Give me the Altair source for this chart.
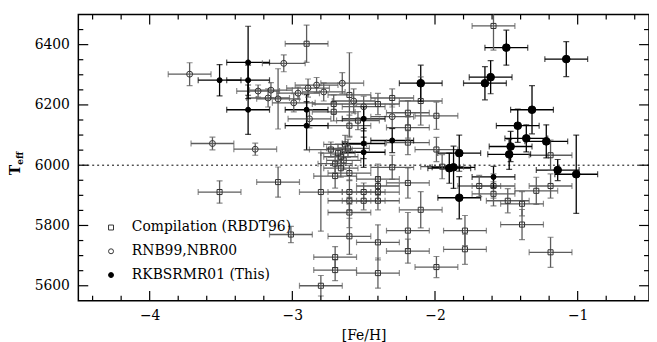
import altair as alt
import pandas as pd

# ---------------- data ----------------
comp_feh = [-3.51, -3.10, -3.01, -2.80, -2.70, -2.70, -2.80, -2.90, -2.73, -2.68,
            -2.66, -2.64, -2.70, -2.66, -2.70, -2.71, -2.71, -2.60, -2.40, -2.30,
            -2.10, -2.19, -1.99, -2.19, -2.19, -1.99, -2.30, -2.60, -2.40, -2.40,
            -2.19, -2.60, -2.50, -2.40, -2.60, -2.50, -2.40, -2.10, -2.60, -2.19,
            -2.60, -2.40, -2.19, -1.99, -2.40, -1.79, -1.79, -1.19, -1.39, -1.49,
            -1.39, -1.29, -1.19, -1.19, -1.69, -1.59, -1.59, -1.59, -1.95, -2.60,
            -2.54, -2.63, -2.61]
comp_teff = [5911, 5944, 5770, 5911, 5695, 5652, 5600, 6403, 6052, 6040,
             6028, 6016, 6005, 5990, 5964, 6203, 6177, 6233, 6203, 6223,
             6213, 6174, 6164, 6125, 6075, 6052, 5993, 5974, 5954, 5931,
             5941, 5911, 5911, 5911, 5882, 5882, 5882, 5852, 5843, 5783,
             5764, 5744, 5715, 5662, 5642, 5783, 5721, 5711, 5803, 5882,
             5872, 5915, 5931, 6033, 5931, 5931, 5905, 6462, 5995, 6131,
             6148, 6069, 6056]
comp_efeh = [0.15, 0.15, 0.15, 0.15, 0.15, 0.15, 0.15, 0.15, 0.15, 0.12,
             0.12, 0.12, 0.12, 0.12, 0.15, 0.15, 0.15, 0.15, 0.15, 0.15,
             0.15, 0.15, 0.15, 0.15, 0.15, 0.15, 0.15, 0.15, 0.15, 0.15,
             0.15, 0.15, 0.15, 0.15, 0.15, 0.15, 0.15, 0.15, 0.15, 0.15,
             0.15, 0.15, 0.15, 0.15, 0.15, 0.15, 0.15, 0.15, 0.15, 0.15,
             0.15, 0.15, 0.15, 0.15, 0.15, 0.15, 0.15, 0.15, 0.15, 0.15,
             0.15, 0.15, 0.15]
comp_eteff = [37, 50, 27, 130, 35, 35, 34, 62, 25, 30,
              30, 30, 30, 30, 40, 30, 30, 140, 35, 30,
              80, 40, 45, 35, 40, 40, 40, 25, 50, 30,
              50, 40, 30, 30, 30, 30, 30, 60, 50, 60,
              60, 58, 40, 35, 50, 50, 50, 50, 50, 40,
              40, 45, 40, 50, 35, 40, 40, 80, 40, 35,
              30, 30, 30]

rnb_feh = [-3.72, -3.56, -3.06, -3.26, -3.24, -3.15, -3.17, -3.10, -2.99, -2.96,
           -2.89, -2.83, -2.78, -2.65, -2.88, -2.57, -2.50, -2.30]
rnb_teff = [6302, 6072, 6338, 6053, 6246, 6249, 6223, 6220, 6207, 6239,
            6256, 6266, 6243, 6272, 6154, 6213, 6194, 6161]
rnb_efeh = [0.15, 0.15, 0.15, 0.15, 0.15, 0.15, 0.15, 0.15, 0.15, 0.15,
            0.15, 0.15, 0.15, 0.15, 0.15, 0.15, 0.15, 0.15]
rnb_eteff = [38, 21, 28, 20, 20, 25, 30, 100, 30, 20,
             30, 25, 30, 35, 30, 40, 35, 40]

this_s_feh = [-3.51, -3.31, -3.31, -3.31, -2.90, -2.90, -2.30, -2.50, -2.50, -2.50, -1.59]
this_s_teff = [6282, 6341, 6282, 6184, 6184, 6131, 6082, 6154, 6072, 6043, 5961]
this_s_efeh = [0.15, 0.15, 0.15, 0.15, 0.15, 0.15, 0.15, 0.15, 0.15, 0.15, 0.15]
this_s_eteff = [52, 120, 50, 82, 50, 80, 40, 40, 50, 50, 35]

this_b_feh = [-1.50, -1.08, -1.61, -1.65, -2.10, -1.32, -1.42, -1.36, -1.22, -1.47,
              -1.48, -1.83, -1.87, -1.90, -1.83, -1.14, -1.01]
this_b_teff = [6390, 6352, 6292, 6272, 6272, 6184, 6131, 6089, 6079, 6062,
               6036, 6040, 5993, 5990, 5892, 5984, 5970]
this_b_efeh = [0.15, 0.15, 0.15, 0.15, 0.15, 0.15, 0.15, 0.15, 0.15, 0.15,
               0.15, 0.15, 0.15, 0.15, 0.15, 0.15, 0.15]
this_b_eteff = [58, 58, 55, 55, 60, 80, 55, 45, 55, 50,
                50, 60, 70, 50, 70, 35, 130]

series_names = ["Compilation (RBDT96)", "RNB99,NBR00", "RKBSRMR01 (This)"]
x_major = [-4, -3, -2, -1]
x_minor = [-4.4, -4.2, -3.8, -3.6, -3.4, -3.2, -2.8, -2.6, -2.4, -2.2,
           -1.8, -1.6, -1.4, -1.2, -0.8, -0.6]
y_major = [5600, 5800, 6000, 6200, 6400]
y_minor = [5650, 5700, 5750, 5850, 5900, 5950, 6050, 6100, 6150,
           6250, 6300, 6350, 6450]


def frame(feh, teff, efeh, eteff, series, group):
    d = pd.DataFrame({"feh": feh, "teff": teff, "efeh": efeh, "eteff": eteff})
    d["series"] = series
    d["group"] = group
    return d


df = pd.concat([
    frame(comp_feh, comp_teff, comp_efeh, comp_eteff, series_names[0], "comp"),
    frame(rnb_feh, rnb_teff, rnb_efeh, rnb_eteff, series_names[1], "rnb"),
    frame(this_s_feh, this_s_teff, this_s_efeh, this_s_eteff, series_names[2], "small"),
    frame(this_b_feh, this_b_teff, this_b_efeh, this_b_eteff, series_names[2], "big"),
], ignore_index=True)
df["xlo"] = df["feh"] - df["efeh"]
df["xhi"] = df["feh"] + df["efeh"]
df["ylo"] = df["teff"] - df["eteff"]
df["yhi"] = df["teff"] + df["eteff"]

W, H = 576, 289
FONT = "DejaVu Serif"
xs = alt.Scale(domain=[-4.5, -0.5], nice=False, zero=False)
ys = alt.Scale(domain=[5550, 6500], nice=False, zero=False)

GRAY = "#5c5c5c"
bar_color = alt.Color("group:N", legend=None,
                      scale=alt.Scale(domain=["comp", "rnb", "small", "big"],
                                      range=[GRAY, GRAY, "#000000", "#000000"]))

XA = alt.Axis(orient="bottom", values=x_major, format="d", labels=True,
              ticks=False, domain=False, grid=False, labelFont=FONT,
              labelFontSize=14, labelColor="black", labelPadding=8,
              title="[Fe/H]", titleFont=FONT, titleFontSize=14,
              titleFontWeight="normal", titleColor="black", titlePadding=6)
YA = alt.Axis(orient="left", values=y_major, format="d", labels=True,
              ticks=False, domain=False, grid=False, labelFont=FONT,
              labelFontSize=14, labelColor="black", labelPadding=9,
              title="")


def X(field):
    return alt.X(field, scale=xs, axis=XA)


def Y(field):
    return alt.Y(field, scale=ys, axis=YA)


base = alt.Chart(df)

# horizontal error bars
xbars = base.mark_rule(strokeWidth=1.3, clip=True).encode(
    x=X("xlo:Q"), x2="xhi:Q", y=Y("teff:Q"), color=bar_color)
# vertical error bars
ybars = base.mark_rule(strokeWidth=1.3, clip=True).encode(
    x=X("feh:Q"), y=Y("ylo:Q"), y2="yhi:Q", color=bar_color)


def caps(xfield, yfield, orient):
    return base.mark_tick(size=6, thickness=1.2, orient=orient, clip=True).encode(
        x=X(xfield), y=Y(yfield), color=bar_color)


xcap_lo = caps("xlo:Q", "teff:Q", "vertical")
xcap_hi = caps("xhi:Q", "teff:Q", "vertical")
ycap_lo = caps("feh:Q", "ylo:Q", "horizontal")
ycap_hi = caps("feh:Q", "yhi:Q", "horizontal")

legend = alt.Legend(orient="none", legendX=26, legendY=208, title=None,
                    labelFont=FONT, labelFontSize=14, labelColor="black",
                    labelLimit=0, symbolSize=25, symbolStrokeWidth=1,
                    rowPadding=10, labelOffset=14, padding=0)
shape_enc = alt.Shape("series:N", legend=legend,
                      scale=alt.Scale(domain=series_names,
                                      range=["square", "circle", "circle"]))
fill_enc = alt.Fill("series:N", legend=legend,
                    scale=alt.Scale(domain=series_names,
                                    range=["transparent", "transparent", "black"]))
stroke_enc = alt.Stroke("series:N", legend=legend,
                        scale=alt.Scale(domain=series_names,
                                        range=["#333333", "#333333", "black"]))


def points(group, size):
    return base.transform_filter(alt.datum.group == group).mark_point(
        size=size, strokeWidth=1, opacity=1, filled=False).encode(
        x=X("feh:Q"), y=Y("teff:Q"),
        shape=shape_enc, fill=fill_enc, stroke=stroke_enc,
    )


p_comp = points("comp", 26)
p_rnb = points("rnb", 36)
p_small = points("small", 26)
p_big = points("big", 60)

# inward tick marks on all four sides, placed by the scales
xmaj = pd.DataFrame({"v": x_major})
xmin = pd.DataFrame({"v": x_minor})
ymaj = pd.DataFrame({"v": y_major})
ymin = pd.DataFrame({"v": y_minor})


def xticks(d, y0, y1):
    return alt.Chart(d).mark_rule(color="black", strokeWidth=1.2).encode(
        x=X("v:Q"), y=alt.value(y0), y2=alt.value(y1))


def yticks(d, x0, x1):
    return alt.Chart(d).mark_rule(color="black", strokeWidth=1.2).encode(
        y=Y("v:Q"), x=alt.value(x0), x2=alt.value(x1))


tick_layers = [
    xticks(xmaj, H, H - 10), xticks(xmin, H, H - 5),
    xticks(xmaj, 0, 10), xticks(xmin, 0, 5),
    yticks(ymaj, 0, 10), yticks(ymin, 0, 5),
    yticks(ymaj, W, W - 10), yticks(ymin, W, W - 5),
]

one = pd.DataFrame({"k": [0]})
dotted = alt.Chart(one).mark_rule(color="black", strokeWidth=1, strokeDash=[2, 3]).encode(
    y=alt.Y(datum=6000, type="quantitative", scale=ys, axis=YA)
)
t_main = alt.Chart(one).mark_text(text="T", angle=270, font=FONT, fontSize=14,
                                  fontWeight="bold", color="black").encode(
    x=alt.value(-63), y=alt.value(157))
t_sub = alt.Chart(one).mark_text(text="eff", angle=270, font=FONT, fontSize=9,
                                 fontWeight="bold", color="black").encode(
    x=alt.value(-59), y=alt.value(145))

chart = alt.layer(
    xbars, dotted, ybars, xcap_lo, xcap_hi, ycap_lo, ycap_hi,
    p_comp, p_rnb, p_small, p_big, *tick_layers, t_main, t_sub
).properties(
    width=W, height=H,
    autosize=alt.AutoSizeParams(type="none"),
    padding={"left": 71, "top": 5, "right": 0, "bottom": 40},
).configure(background="white").configure_view(stroke="black", strokeWidth=1.5)

chart.save("out.html", embed_options={"renderer": "svg", "actions": False})
